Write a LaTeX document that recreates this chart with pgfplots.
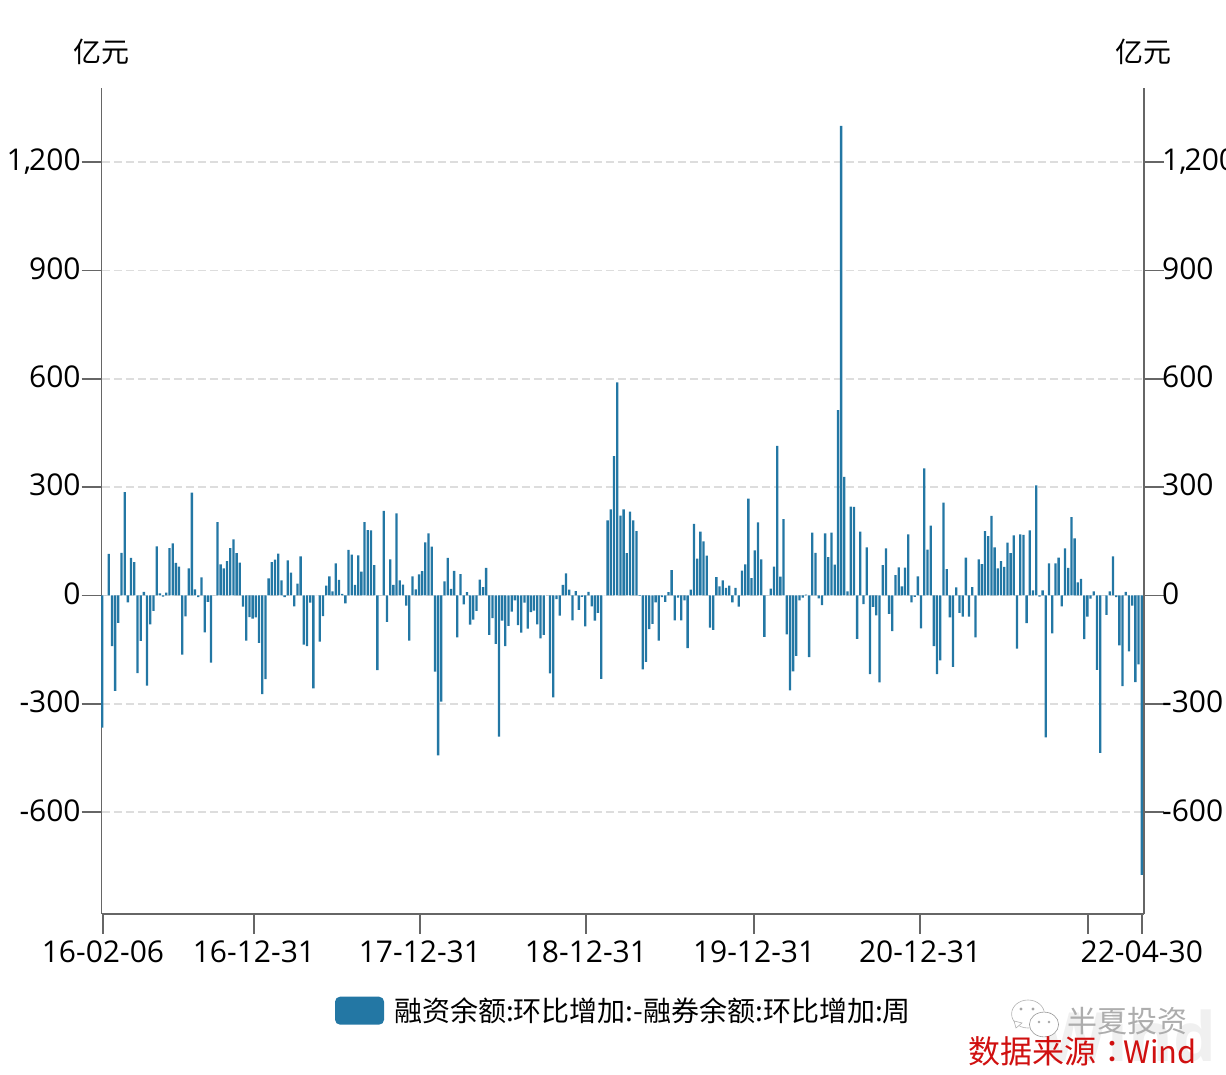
\documentclass[border=0pt]{standalone}
\usepackage{pgfplots}
\pgfplotsset{compat=1.18}
\usepackage{fontspec}
\setmainfont{Open Sans}
\newfontfamily\cjk{Noto Sans CJK SC}
\newfontfamily\cjktc{Noto Sans CJK TC}
\definecolor{barblue}{HTML}{2377A4}
\definecolor{axgray}{HTML}{666666}
\definecolor{gridgray}{HTML}{DDDDDD}
\definecolor{srcred}{HTML}{D01010}
\pgfplotsset{common/.style={
  scale only axis, width=521.15pt, height=413pt,
  xmin=-0.19, xmax=325.7, ymin=-882, ymax=1405,
  ytick={-600,-300,0,300,600,900,1200},
  yticklabels={-600,-300,0,300,600,900,{1,\kern-1pt 200}},
  ticklabel style={font=\fontsize{15}{17}\selectfont,text=black},
  fixstyle/.style={
    axis line style={axgray,line width=0.8pt,-},
    tick style={axgray,line width=0.8pt},
    major tick length=10pt,
    tick align=outside,
  },
}}
\begin{document}
\begin{tikzpicture}
\path[use as bounding box] (0,0) rectangle (613pt,537.5pt);
% watermark behind the chart
\node[anchor=center,text=black!6,font=\fontsize{34}{34}\selectfont\bfseries] at (564.5pt,19.5pt) {Wind};
\begin{axis}[common,
  name=main, anchor=south west, at={(50.85pt,80.5pt)},
  axis y line=left, axis x line=bottom,
  fixstyle,
  tick pos=left,
  yticklabel style={text depth=0pt,yshift=1pt,xshift=3pt},
  ymajorgrids, grid style={gridgray,line width=0.8pt,dash pattern=on 4pt off 2pt},
  xtick={0.2,47.4,99.3,151.2,203.8,255.7,308.2,325},
  xticklabels={16-02-06,16-12-31,17-12-31,18-12-31,19-12-31,20-12-31,,22-04-30},
  clip=false,
  ybar, bar width=1.15pt, bar shift=0pt,
  legend style={at={(0.2235,-0.0955)},anchor=north west,draw=none,fill=none,
    inner xsep=0pt,inner ysep=0pt,
    font=\cjk\fontsize{14}{16}\selectfont,
    legend cell align=left},
  legend image code/.code={\fill[barblue,rounded corners=2.5pt] (0pt,-7pt) rectangle (24.5pt,7pt);\path (27.5pt,0pt);},
]
\addplot[fill=barblue,draw=none] coordinates {
(0,-366)(1,0)(2,115)(3,-140)(4,-264)(5,-76)(6,118)(7,286)(8,-19)(9,104)
(10,92)(11,-215)(12,-126)(13,10)(14,-250)(15,-80)(16,-43)(17,136)(18,6)(19,-3)
(20,8)(21,131)(22,144)(23,90)(24,80)(25,-164)(26,-58)(27,75)(28,285)(29,17)
(30,-5)(31,50)(32,-102)(33,-18)(34,-186)(35,0)(36,203)(37,86)(38,75)(39,95)
(40,131)(41,155)(42,117)(43,91)(44,-31)(45,-125)(46,-60)(47,-64)(48,-61)(49,-131)
(50,-273)(51,-232)(52,47)(53,92)(54,99)(55,116)(56,42)(57,-5)(58,97)(59,63)
(60,-30)(61,33)(62,108)(63,-136)(64,-140)(65,-20)(66,-257)(67,0)(68,-128)(69,-57)
(70,27)(71,53)(72,11)(73,89)(74,43)(75,4)(76,-22)(77,126)(78,113)(79,29)
(80,111)(81,66)(82,203)(83,181)(84,180)(85,84)(86,-207)(87,0)(88,234)(89,-73)
(90,100)(91,29)(92,227)(93,42)(94,30)(95,-28)(96,-125)(97,53)(98,17)(99,58)
(100,67)(101,147)(102,172)(103,135)(104,-211)(105,-443)(106,-294)(107,39)(108,104)(109,18)
(110,68)(111,-116)(112,59)(113,-25)(114,9)(115,-81)(116,-67)(117,-43)(118,44)(119,23)
(120,76)(121,-109)(122,-63)(123,-134)(124,-391)(125,-70)(126,-140)(127,-84)(128,-45)(129,-14)
(130,-82)(131,-103)(132,-20)(133,-92)(134,-46)(135,-42)(136,-80)(137,-119)(138,-109)(139,0)
(140,-216)(141,-282)(142,-10)(143,-56)(144,29)(145,61)(146,16)(147,-69)(148,12)(149,-40)
(150,-4)(151,-86)(152,10)(153,-30)(154,-70)(155,-48)(156,-231)(157,0)(158,208)(159,238)
(160,386)(161,590)(162,221)(163,238)(164,117)(165,232)(166,208)(167,178)(168,-1)(169,-205)
(170,-184)(171,-93)(172,-79)(173,-19)(174,-125)(175,-5)(176,-18)(177,9)(178,70)(179,-69)
(180,-6)(181,-69)(182,-14)(183,-146)(184,16)(185,198)(186,102)(187,177)(188,150)(189,110)
(190,-89)(191,-95)(192,51)(193,25)(194,42)(195,21)(196,27)(197,-19)(198,21)(199,-31)
(200,69)(201,86)(202,268)(203,48)(204,125)(205,202)(206,100)(207,-115)(208,0)(209,19)
(210,80)(211,414)(212,52)(213,211)(214,-108)(215,-263)(216,-210)(217,-167)(218,-14)(219,-6)
(220,2)(221,-171)(222,174)(223,118)(224,-8)(225,-27)(226,172)(227,106)(228,174)(229,85)
(230,513)(231,1300)(232,328)(233,11)(234,246)(235,245)(236,-120)(237,177)(238,-24)(239,133)
(240,-218)(241,-32)(242,-55)(243,-241)(244,84)(245,130)(246,-51)(247,-99)(248,56)(249,78)
(250,25)(251,77)(252,169)(253,-19)(254,-4)(255,53)(256,-91)(257,352)(258,127)(259,193)
(260,-140)(261,-218)(262,-180)(263,257)(264,73)(265,-61)(266,-198)(267,22)(268,-48)(269,-59)
(270,105)(271,-59)(272,23)(273,-116)(274,100)(275,87)(276,178)(277,164)(278,220)(279,133)
(280,75)(281,95)(282,79)(283,146)(284,117)(285,166)(286,-147)(287,169)(288,168)(289,-77)
(290,180)(291,14)(292,305)(293,-3)(294,14)(295,-393)(296,89)(297,-105)(298,89)(299,105)
(300,-30)(301,130)(302,76)(303,217)(304,158)(305,36)(306,46)(307,-121)(308,-59)(309,-9)
(310,11)(311,-206)(312,-436)(313,0)(314,-54)(315,11)(316,108)(317,-5)(318,-138)(319,-251)
(320,10)(321,-155)(322,-28)(323,-240)(324,-191)(325,-774)
};
\addlegendentry{融资余额:环比增加:-融券余额:环比增加:周}
\end{axis}
\begin{axis}[common,
  anchor=south west, at={(50.85pt,80.5pt)},
  axis y line=right, axis x line=none,
  fixstyle,
  tick pos=right,
  yticklabel style={text depth=0pt,yshift=1pt,xshift=-4.5pt},
]
\end{axis}
\node[font=\cjk\fontsize{14}{16}\selectfont] at (50.5pt,511.5pt) {亿元};
\node[font=\cjk\fontsize{14}{16}\selectfont] at (571.5pt,511.5pt) {亿元};
% WeChat-style mark
\filldraw[draw=black!30,fill=white,line width=0.3pt] (514pt,30.5pt) ellipse (8.2pt and 7pt);
\filldraw[draw=black!30,fill=white,line width=0.3pt] (508pt,23.5pt) -- (511pt,26pt) -- (507pt,27pt) -- cycle;
\filldraw[draw=black!40,fill=white,line width=0.3pt] (522pt,25.25pt) ellipse (7.3pt and 6.2pt);
\fill[black!35] (510.5pt,33pt) circle (0.8pt) (516.5pt,33pt) circle (0.8pt) (519.5pt,26.5pt) circle (0.7pt) (524.5pt,26.5pt) circle (0.7pt);
\node[anchor=center,text=black!32,font=\cjk\fontsize{15}{16}\selectfont] at (563.5pt,27pt) {半夏投资};
\node[anchor=east,inner sep=0pt,text=srcred,font=\cjk\fontsize{16}{18}\selectfont] at (598.5pt,12pt) {数据来源{\cjktc ：}\hspace{-2.5pt}{\fontsize{15.4}{18}\selectfont Wind}};
\end{tikzpicture}
\end{document}
